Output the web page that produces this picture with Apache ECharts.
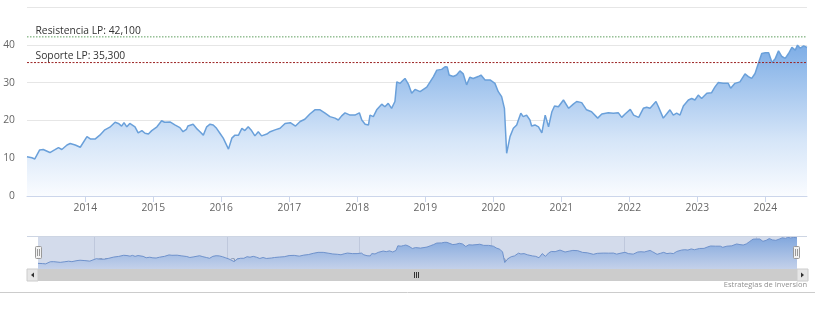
<!DOCTYPE html>
<html>
<head>
<meta charset="utf-8">
<script src="https://cdn.jsdelivr.net/npm/echarts/dist/echarts.min.js"></script>
<style>
html,body{margin:0;padding:0;background:#fff;}
#c{width:823px;height:316px;}
</style>
</head>
<body>
<div id="c"></div>
<script>
// ---- data ----
const dates = [
'2013-02-22','2013-03-20','2013-04-05','2013-05-01','2013-05-20','2013-06-25','2013-07-20','2013-08-10','2013-08-28','2013-09-25','2013-10-12','2013-11-08','2013-12-05',
'2014-01-10','2014-01-28','2014-02-24','2014-03-20','2014-04-16','2014-05-13','2014-06-10','2014-06-28','2014-07-15','2014-07-28','2014-08-12','2014-08-28','2014-09-25','2014-10-12','2014-11-01','2014-11-18','2014-12-06','2014-12-24',
'2015-01-01','2015-01-21','2015-02-15','2015-03-03','2015-04-01','2015-04-27','2015-05-24','2015-06-10','2015-06-28','2015-07-06','2015-08-03','2015-08-21','2015-09-09','2015-09-27','2015-10-15','2015-11-02','2015-11-19','2015-12-07','2015-12-25',
'2016-01-12','2016-02-09','2016-02-27','2016-03-15','2016-04-03','2016-04-21','2016-05-07','2016-05-25','2016-06-12','2016-06-30','2016-07-18','2016-08-05','2016-09-02','2016-09-20','2016-10-16','2016-11-12','2016-12-09',
'2017-01-06','2017-02-03','2017-02-28','2017-03-25','2017-04-21','2017-05-18','2017-06-15','2017-07-12','2017-08-07','2017-09-03','2017-09-21','2017-10-09','2017-10-27','2017-11-23','2017-12-19',
'2018-01-12','2018-01-25','2018-02-12','2018-03-02','2018-03-10','2018-03-28','2018-04-15','2018-05-12','2018-05-29','2018-06-16','2018-07-04','2018-07-22','2018-08-01','2018-08-19','2018-09-01','2018-09-14','2018-10-02','2018-10-20','2018-11-07','2018-12-04','2018-12-13',
'2019-01-09','2019-01-27','2019-02-14','2019-03-04','2019-03-30','2019-04-17','2019-04-29','2019-05-09','2019-05-31','2019-06-18','2019-07-06','2019-07-24','2019-08-11','2019-08-28','2019-09-15','2019-10-12','2019-10-27','2019-11-18','2019-12-15',
'2020-01-10','2020-01-28','2020-02-15','2020-03-01','2020-03-13','2020-03-31','2020-04-18','2020-05-06','2020-05-15','2020-05-28','2020-06-10','2020-06-28','2020-07-16','2020-07-25','2020-08-12','2020-08-31','2020-09-18','2020-10-06','2020-10-24','2020-11-11','2020-11-25','2020-12-16',
'2021-01-12','2021-02-09','2021-03-06','2021-03-24','2021-04-20','2021-05-16','2021-06-12','2021-07-15','2021-08-06','2021-09-10','2021-10-07','2021-11-03','2021-11-21','2021-12-09',
'2022-01-06','2022-01-24','2022-02-20','2022-03-17','2022-04-04','2022-04-22','2022-05-24','2022-06-06','2022-07-02','2022-07-20','2022-08-07','2022-08-25','2022-09-12','2022-09-30','2022-10-18','2022-11-14','2022-12-02','2022-12-19',
'2023-01-06','2023-01-24','2023-02-21','2023-03-18','2023-04-05','2023-04-23','2023-05-20','2023-06-16','2023-06-29','2023-07-22','2023-08-18','2023-09-14','2023-10-02','2023-10-20','2023-11-07','2023-11-25','2023-12-13',
'2024-01-01','2024-01-19','2024-02-06','2024-02-24','2024-03-12','2024-03-30','2024-04-17','2024-05-05','2024-05-23','2024-06-10','2024-06-22','2024-07-07','2024-07-25','2024-08-12'
];
const prices = [
10.4,10.1,9.8,12.2,12.3,11.5,12.2,12.8,12.3,13.5,13.9,13.5,12.9,
15.7,15.1,15.1,16.1,17.5,18.2,19.5,19.2,18.5,19.4,18.3,19.2,18.3,16.7,17.3,16.6,16.4,17.3,
17.0,18.3,19.9,19.5,19.6,18.8,18.1,17.0,17.6,18.5,19.0,17.9,17.0,16.1,18.3,19.0,18.8,17.9,16.6,
15.3,12.4,15.3,16.1,16.1,17.9,17.3,18.3,17.3,15.9,17.0,15.9,16.4,17.0,17.5,17.9,19.2,
19.4,18.5,19.7,20.3,21.7,22.8,22.8,21.9,21.0,20.6,20.1,21.2,22.0,21.4,21.4,
22.0,20.1,19.0,18.8,21.4,21.0,22.8,24.3,23.6,24.5,23.2,25.0,30.2,29.8,30.5,31.1,29.6,27.2,28.2,27.6,27.3,
28.8,30.2,31.6,33.3,33.5,34.2,34.1,32.0,31.6,32.0,33.1,32.3,29.4,31.4,31.1,31.6,32.0,30.7,30.7,
29.8,27.6,26.3,23.2,11.3,15.7,17.9,18.8,20.1,21.9,21.0,21.4,20.1,18.5,18.8,18.3,16.7,21.4,18.3,22.3,23.8,23.6,
25.4,23.2,24.3,25.0,24.7,22.8,22.3,20.6,21.7,22.0,21.9,22.0,20.8,21.7,
22.9,21.4,20.8,23.2,23.5,23.2,25.0,23.6,20.6,21.7,22.8,21.4,21.9,21.4,23.8,25.4,25.8,25.4,
26.7,25.8,27.2,27.3,28.8,30.0,29.8,29.8,28.5,29.8,30.2,32.3,31.6,31.1,32.4,35.1,37.7,
37.9,37.9,35.3,36.4,38.4,36.9,36.4,37.7,39.3,38.6,39.9,39.1,39.7,39.3
];
const yearLabels = ['2014','2015','2016','2017','2018','2019','2020','2021','2022','2023','2024'];
const navYearLabels = ['2014','2016','2018','2020','2022','2024'];
const levels = [42.1, 35.3];
const levelLabels = ['Resistencia LP: 42,100', 'Soporte LP: 35,300'];
const creditText = 'Estrategias de Inversion';

// ---- build ----
const FONT = 'Open Sans';
function ts(s){ const p = s.split('-'); return Date.UTC(+p[0], +p[1]-1, +p[2]); }
const seriesData = dates.map((d,i)=>[ts(d), prices[i]]);
const yearTicks = yearLabels.map(y=>Date.UTC(+y,0,1));
const navTicks = navYearLabels.map(y=>Date.UTC(+y,0,1));
const xMin = ts(dates[0]), xMax = ts(dates[dates.length-1]);
const yearFmt = v => String(new Date(v).getUTCFullYear());

const chart = echarts.init(document.getElementById('c'), null, {renderer:'canvas'});
const mainGrad = new echarts.graphic.LinearGradient(0, 7, 0, 196, [
  {offset:0, color:'#5a97df'},
  {offset:0.2, color:'#7dade6'},
  {offset:0.7, color:'#d5e5f8'},
  {offset:1, color:'#fafcff'}
], true);
const navGrad = new echarts.graphic.LinearGradient(0, 236, 0, 269, [
  {offset:0, color:'#7fa6dd'},
  {offset:1, color:'#c4d1ea'}
], true);

// horizontal level line drawn as its own line series, labelled at its start
function levelSeries(value, name, color, dash){
  return {
    type:'line', xAxisIndex:0, yAxisIndex:0, z:5, silent:true,
    showSymbol:true, symbol:'rect', symbolSize:1, itemStyle:{color:'rgba(0,0,0,0)'},
    lineStyle:{color:color, type:dash, width:1},
    emphasis:{disabled:true},
    data:[
      {value:[xMin, value], label:{show:true, formatter:name, position:'right', distance:8, offset:[0,-6], color:'#333', fontSize:10.3, fontFamily:FONT}},
      {value:[xMax, value], label:{show:false}}
    ]
  };
}

const option = {
  animation:false,
  textStyle:{fontFamily:FONT},
  grid:[
    {left:27, right:16, top:7, height:189, containLabel:false},
    {left:38, right:26, top:236, height:33, show:true, backgroundColor:'#d3dbeb', borderWidth:0}
  ],
  xAxis:[
    {type:'value', gridIndex:0, min:xMin, max:xMax,
     axisLine:{show:true, lineStyle:{color:'#ccd6eb', width:1}},
     axisTick:{show:true, length:6, lineStyle:{color:'#ccd6eb'}, customValues:yearTicks},
     axisLabel:{customValues:yearTicks, formatter:yearFmt, color:'#666', fontSize:10.3, fontFamily:FONT, margin:7, hideOverlap:false, showMinLabel:true, showMaxLabel:true},
     splitLine:{show:false}},
    {type:'value', gridIndex:1, min:xMin, max:xMax,
     axisLine:{show:false}, axisTick:{show:false, customValues:navTicks},
     axisLabel:{customValues:navTicks, formatter:yearFmt, inside:true, align:'left', verticalAlign:'bottom', margin:1, padding:[0,0,0,3], color:'#8594b0', fontSize:10.3, fontFamily:FONT, showMinLabel:true, showMaxLabel:true},
     splitLine:{show:true, lineStyle:{color:'#bfc8dc', width:1}}}
  ],
  yAxis:[
    {type:'value', gridIndex:0, min:0, max:50, interval:10,
     axisLine:{show:false}, axisTick:{show:false},
     axisLabel:{showMaxLabel:false, color:'#666', fontSize:10.3, fontFamily:FONT, margin:12, padding:[0,0,9,0]},
     splitLine:{show:true, lineStyle:{color:'#e6e6e6', width:1}}},
    {type:'value', gridIndex:1, min:4, max:41.3, show:false, splitLine:{show:false}}
  ],
  series:[
    {type:'line', xAxisIndex:0, yAxisIndex:0, data:seriesData, showSymbol:false, symbol:'none',
     lineStyle:{color:'#6aa0da', width:1.5}, areaStyle:{color:mainGrad, opacity:1}},
    levelSeries(levels[0], levelLabels[0], '#5e9e5e', [1.5,1.5]),
    levelSeries(levels[1], levelLabels[1], '#9a2020', [2,1.5]),
    {type:'line', xAxisIndex:1, yAxisIndex:1, data:seriesData, showSymbol:false, symbol:'none',
     lineStyle:{color:'#6f92cc', width:1}, areaStyle:{color:navGrad, opacity:1}}
  ],
  graphic:[
    {type:'line', shape:{x1:27, y1:236.5, x2:807, y2:236.5}, style:{stroke:'#cdd5e3', lineWidth:1}, z:10},
    // scrollbar
    {type:'rect', shape:{x:27, y:269, width:781, height:12}, style:{fill:'#cccccc'}, z:10},
    {type:'rect', shape:{x:27, y:269, width:11, height:12}, style:{fill:'#e6e6e6', stroke:'#cccccc', lineWidth:1}, z:11},
    {type:'rect', shape:{x:797, y:269, width:11, height:12}, style:{fill:'#e6e6e6', stroke:'#cccccc', lineWidth:1}, z:11},
    {type:'polygon', shape:{points:[[34,272.5],[34,277.5],[31,275]]}, style:{fill:'#333'}, z:12},
    {type:'polygon', shape:{points:[[801,272.5],[801,277.5],[804,275]]}, style:{fill:'#333'}, z:12},
    {type:'line', shape:{x1:414.5, y1:272, x2:414.5, y2:278}, style:{stroke:'#333', lineWidth:1}, z:12},
    {type:'line', shape:{x1:416.5, y1:272, x2:416.5, y2:278}, style:{stroke:'#333', lineWidth:1}, z:12},
    {type:'line', shape:{x1:418.5, y1:272, x2:418.5, y2:278}, style:{stroke:'#333', lineWidth:1}, z:12},
    // navigator handles
    {type:'rect', shape:{x:35.5, y:246.5, width:6, height:12, r:1}, style:{fill:'#f2f2f2', stroke:'#999', lineWidth:1}, z:12},
    {type:'line', shape:{x1:37.5, y1:249, x2:37.5, y2:256}, style:{stroke:'#999', lineWidth:1}, z:13},
    {type:'line', shape:{x1:39.5, y1:249, x2:39.5, y2:256}, style:{stroke:'#999', lineWidth:1}, z:13},
    {type:'rect', shape:{x:793.5, y:246.5, width:6, height:12, r:1}, style:{fill:'#f2f2f2', stroke:'#999', lineWidth:1}, z:12},
    {type:'line', shape:{x1:795.5, y1:249, x2:795.5, y2:256}, style:{stroke:'#999', lineWidth:1}, z:13},
    {type:'line', shape:{x1:797.5, y1:249, x2:797.5, y2:256}, style:{stroke:'#999', lineWidth:1}, z:13},
    // bottom rule and credit
    {type:'line', shape:{x1:0, y1:292.5, x2:815, y2:292.5}, style:{stroke:'#cccccc', lineWidth:1}, z:10},
    {type:'text', right:16, top:281, style:{text:creditText, fill:'#909090', font:'7.5px "Open Sans"'}, z:10}
  ]
};
chart.setOption(option);
</script>
</body>
</html>
